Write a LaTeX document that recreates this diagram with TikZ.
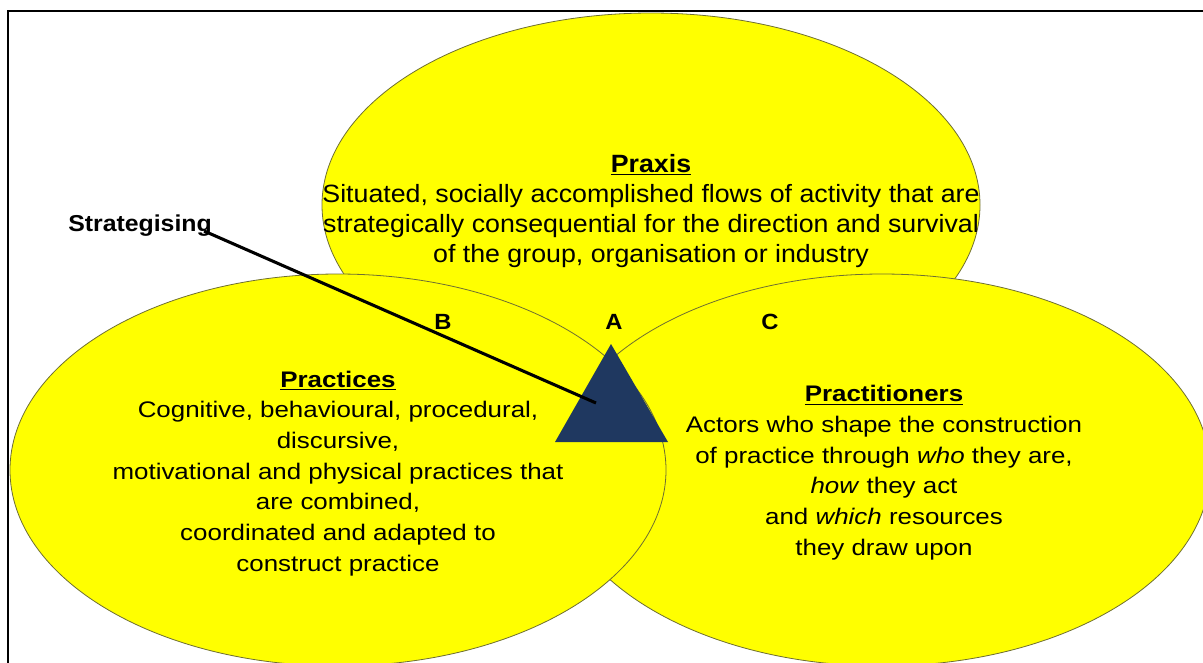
\documentclass[tikz,border=0pt]{standalone}
\usepackage{fontspec}
\setmainfont{Liberation Sans}
\newfontfamily\widesans{Liberation Sans}[FakeStretch=1.15]
\newfontfamily\praxsans{Liberation Sans}[FakeStretch=1.07]
\newfontfamily\labsans{Liberation Sans}[FakeStretch=1.08]
\definecolor{vennyellow}{RGB}{255,255,0}
\definecolor{rimolive}{RGB}{110,110,50}
\definecolor{navyblue}{RGB}{31,56,96}
\begin{document}
\begin{tikzpicture}[x=0.75pt, y=-0.75pt,
            bubble/.style={fill=vennyellow, draw=rimolive, line width=0.6pt},
            bodytext/.style={align=center, inner sep=0pt, font=\widesans\fontsize{16.9}{23}\selectfont},
            praxtext/.style={align=center, inner sep=0pt, font=\praxsans\fontsize{18.75}{22.5}\selectfont},
            letter/.style={anchor=base, inner sep=0pt, font=\labsans\bfseries\fontsize{16.5}{19}\selectfont}
        ]
            \useasboundingbox (0,0) rectangle (1203,662);
            \clip (0,0) rectangle (1203,662);
            \draw[black, line width=1.6pt] (8,11) rectangle (1215,680);
            % the three circles: praxis at the back, practices in front
            \filldraw[bubble] (651,205) ellipse [x radius=329, y radius=192];
            \filldraw[bubble] (882,470) ellipse [x radius=328, y radius=196];
            \filldraw[bubble] (338,470) ellipse [x radius=328, y radius=196];
            \fill[navyblue] (611,344) -- (555,442) -- (668,442) -- cycle;
            \node(praxisnode) at (651,210.7) [praxtext] {\underline{\textbf{Praxis}}\\ Situated, socially accomplished flows of activity that are\\ strategically consequential for the direction and survival\\ of the group, organisation or industry};
            \node(practicesnode) at (338,473.4) [bodytext] {\underline{\textbf{Practices}}\\ Cognitive, behavioural, procedural,\\ discursive,\\ motivational and physical practices that\\ are combined,\\ coordinated and adapted to\\ construct practice};
            \node(practitionersnode) at (884,472.7) [bodytext] {\underline{\textbf{Practitioners}}\\ Actors who shape the construction\\ of practice through \textit{who} they are,\\ \textit{how} they act\\ and \textit{which} resources\\ they draw upon};
            \node(bnode) at (443,329) [letter] {B};
            \node(anode) at (614,329) [letter] {A};
            \node(cnode) at (770,329) [letter] {C};
            \node(stratnode) at (68,231) [letter, anchor=base west, font=\labsans\bfseries\fontsize{17.25}{20}\selectfont] {Strategising};
            \coordinate (stratend) at (596,403);
            \draw[black, line width=2.3pt] ([xshift=-6pt]stratnode.base east) -- (stratend);
        \end{tikzpicture}
\end{document}
